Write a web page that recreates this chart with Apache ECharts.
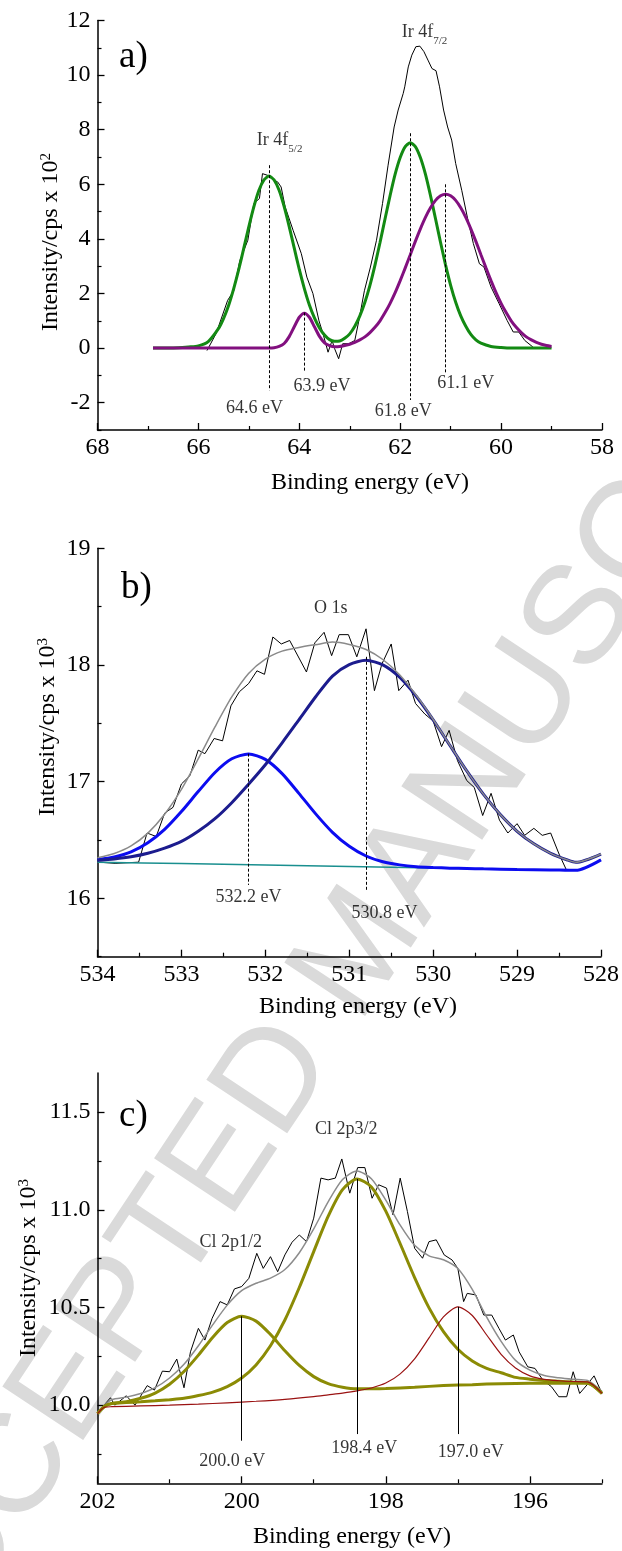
<!DOCTYPE html>
<html>
<head>
<meta charset="utf-8">
<script src="https://cdn.jsdelivr.net/npm/echarts@6/dist/echarts.min.js"></script>
<style>
  html, body { margin: 0; padding: 0; background: #fff; }
  #chart { width: 622px; height: 1551px; }
</style>
</head>
<body>
<div id="chart"></div>
<script>
// ---------- (a) Ir 4f ----------
const irTicksY = [-2, 0, 2, 4, 6, 8, 10, 12];
const irMinorY = [-3, -1, 1, 3, 5, 7, 9, 11];
const irCenters = [64.6, 63.9, 61.8, 61.1];
const irRaw = [
  [65.83,-0.09],[65.65,0.53],[65.42,1.75],[65.30,2.10],[65.18,3.20],[65.02,3.95],[64.90,5.30],[64.79,5.48],
  [64.73,6.39],[64.63,6.33],[64.51,6.15],[64.43,6.09],[64.36,5.90],[64.28,5.17],[64.12,4.30],[63.96,3.46],
  [63.85,2.60],[63.73,2.00],[63.61,1.00],[63.53,0.53],[63.43,-0.15],[63.35,0.28],[63.30,-0.02],[63.22,-0.39],
  [63.14,0.16],[63.02,0.16],[62.90,0.28],[62.82,1.00],[62.71,2.10],[62.59,2.97],[62.47,3.95],[62.35,5.30],
  [62.24,6.70],[62.12,8.10],[62.04,8.72],[61.94,9.33],[61.91,9.57],[61.84,10.30],[61.77,10.73],[61.69,11.04],
  [61.61,11.06],[61.53,10.86],[61.45,10.55],[61.37,10.24],[61.29,10.16],[61.22,9.57],[61.14,8.72],[61.06,8.10],
  [60.98,7.62],[60.90,6.76],[60.78,5.78],[60.67,4.80],[60.55,3.83],[60.43,3.09],[60.34,2.97],[60.20,2.24],
  [60.04,1.63],[59.88,1.01],[59.76,0.59],[59.65,0.59],[59.53,0.28],[59.37,0.04]
];
const irMetal = [
  [66.9,0],[66.6,0],[66.4,0.01],[66.2,0.04],[66.0,0.08],[65.8,0.25],[65.6,0.72],[65.5,1.09],[65.4,1.57],
  [65.3,2.18],[65.2,2.88],[65.1,3.66],[65.0,4.45],[64.9,5.18],[64.8,5.78],[64.7,6.16],[64.6,6.30],[64.5,6.16],
  [64.4,5.78],[64.3,5.18],[64.2,4.45],[64.1,3.66],[64.0,2.88],[63.9,2.18],[63.8,1.58],[63.7,1.11],[63.6,0.74],
  [63.5,0.48],[63.4,0.31],[63.3,0.25],[63.2,0.26],[63.1,0.36],[63.0,0.52],[62.9,0.80],[62.8,1.18],[62.7,1.68],
  [62.6,2.30],[62.5,3.04],[62.4,3.87],[62.3,4.74],[62.2,5.59],[62.1,6.37],[62.0,6.98],[61.9,7.38],[61.8,7.52],
  [61.7,7.38],[61.6,6.98],[61.5,6.37],[61.4,5.59],[61.3,4.74],[61.2,3.87],[61.1,3.04],[61.0,2.30],[60.9,1.68],
  [60.8,1.18],[60.7,0.80],[60.6,0.50],[60.5,0.30],[60.4,0.18],[60.2,0.06],[60.0,0.02],[59.8,0],[59.0,0]
];
const irOxide = [
  [66.9,0],[64.8,0],[64.6,0],[64.5,0.01],[64.4,0.06],[64.3,0.17],[64.2,0.42],[64.1,0.78],[64.0,1.13],[63.9,1.28],
  [63.8,1.13],[63.7,0.78],[63.6,0.43],[63.5,0.19],[63.4,0.09],[63.3,0.05],[63.2,0.06],[63.1,0.095],[63.0,0.14],
  [62.9,0.21],[62.8,0.30],[62.7,0.41],[62.6,0.57],[62.5,0.76],[62.4,1.00],[62.3,1.30],[62.2,1.64],[62.1,2.03],
  [62.0,2.47],[61.9,2.94],[61.8,3.42],[61.7,3.91],[61.6,4.37],[61.5,4.79],[61.4,5.14],[61.3,5.41],[61.2,5.58],
  [61.1,5.64],[61.0,5.58],[60.9,5.41],[60.8,5.14],[60.7,4.79],[60.6,4.37],[60.5,3.91],[60.4,3.42],[60.3,2.94],
  [60.2,2.47],[60.1,2.03],[60.0,1.64],[59.9,1.30],[59.8,1.00],[59.7,0.76],[59.6,0.57],[59.5,0.41],[59.4,0.30],
  [59.3,0.21],[59.2,0.14],[59.1,0.095],[59.0,0.06]
];

// ---------- (b) O 1s ----------
const oTicksY = [16, 17, 18, 19];
const oMinorY = [15.5, 16.5, 17.5, 18.5];
const oCenters = [532.2, 530.8];
const oRaw = [
  [533.98,16.31],[533.79,16.30],[533.51,16.31],[533.41,16.56],[533.30,16.53],[533.20,16.73],[533.10,16.78],
  [533.00,16.98],[532.90,17.05],[532.80,17.27],[532.72,17.24],[532.61,17.37],[532.51,17.35],[532.41,17.65],
  [532.31,17.77],[532.20,17.84],[532.10,17.95],[532.01,17.92],[531.91,18.24],[531.81,18.18],[531.71,18.21],
  [531.51,17.94],[531.41,18.19],[531.30,18.28],[531.21,18.08],[531.12,18.26],[531.01,18.26],[530.91,18.07],
  [530.80,18.31],[530.70,17.78],[530.61,18.01],[530.50,18.18],[530.41,17.78],[530.30,17.87],[530.21,17.67],
  [530.10,17.58],[530.00,17.52],[529.90,17.30],[529.81,17.44],[529.71,17.18],[529.60,17.01],[529.51,16.95],
  [529.41,16.71],[529.31,16.90],[529.21,16.67],[529.11,16.56],[529.00,16.64],[528.91,16.54],[528.80,16.60],
  [528.70,16.54],[528.60,16.56],[528.50,16.38],[528.41,16.24]
];
const oBackground = [
  [534.0,16.310],[533.0,16.298],[532.0,16.285],[531.0,16.273],[530.0,16.261],[529.0,16.248],[528.3,16.240],[528.0,16.33]
];
const oPeakHigh = [
  [534.0,16.331],[533.8,16.354],[533.6,16.398],[533.4,16.476],[533.2,16.591],[533.0,16.744],[532.8,16.915],
  [532.6,17.079],[532.4,17.196],[532.2,17.238],[532.0,17.191],[531.8,17.069],[531.6,16.900],[531.4,16.724],
  [531.2,16.566],[531.0,16.446],[530.8,16.363],[530.6,16.314],[530.4,16.287],[530.2,16.271],[530.0,16.264],
  [529.8,16.259],[529.6,16.256],[529.4,16.253],[529.0,16.248],[528.6,16.244],[528.3,16.240],[528.0,16.33]
];
const oPeakLow = [
  [534.0,16.327],[533.8,16.338],[533.6,16.356],[533.4,16.386],[533.2,16.430],[533.0,16.488],[532.8,16.575],
  [532.6,16.683],[532.4,16.820],[532.2,16.978],[532.0,17.145],[531.8,17.333],[531.6,17.530],[531.4,17.728],
  [531.2,17.905],[531.0,18.003],[530.8,18.040],[530.6,18.001],[530.4,17.895],[530.2,17.730],[530.0,17.530],
  [529.8,17.310],[529.6,17.092],[529.4,16.891],[529.2,16.718],[529.0,16.575],[528.8,16.467],[528.6,16.386],
  [528.4,16.329],[528.3,16.309],[528.0,16.38]
];
const oEnvelope = [
  [534.0,16.348],[533.8,16.384],[533.6,16.449],[533.4,16.559],[533.2,16.721],[533.0,16.934],[532.8,17.195],
  [532.6,17.469],[532.4,17.726],[532.2,17.928],[532.0,18.051],[531.8,18.119],[531.6,18.150],[531.4,18.174],
  [531.2,18.196],[531.0,18.176],[530.8,18.133],[530.6,18.047],[530.4,17.916],[530.2,17.738],[530.0,17.533],
  [529.8,17.311],[529.6,17.092],[529.4,16.891],[529.2,16.718],[529.0,16.575],[528.8,16.467],[528.6,16.386],
  [528.4,16.329],[528.3,16.309],[528.0,16.38]
];

// ---------- (c) Cl 2p ----------
const clTicksX = [196, 198, 200, 202];
const clMinorX = [195, 197, 199, 201];
const clTicksY = [10.0, 10.5, 11.0, 11.5];
const clMinorY = [9.75, 10.25, 10.75, 11.25];
const clCenters = [200.0, 198.4, 197.0];
const clRaw = [
  [201.98,9.966],[201.91,10.0],[201.82,10.038],[201.76,10.0],[201.6,10.048],[201.48,10.0],[201.31,10.10],
  [201.21,10.077],[201.1,10.174],[201.0,10.171],[200.9,10.236],[200.8,10.089],[200.71,10.273],[200.6,10.393],
  [200.51,10.333],[200.41,10.444],[200.3,10.53],[200.2,10.513],[200.1,10.595],[200.0,10.607],[199.9,10.649],
  [199.79,10.777],[199.7,10.70],[199.6,10.76],[199.5,10.683],[199.4,10.769],[199.3,10.834],[199.2,10.871],
  [199.1,10.837],[199.0,10.957],[198.9,11.162],[198.8,11.153],[198.7,11.162],[198.61,11.26],[198.5,11.085],
  [198.39,11.216],[198.29,11.216],[198.19,11.059],[198.1,11.128],[197.99,11.111],[197.9,10.974],[197.8,11.162],
  [197.7,10.991],[197.6,10.803],[197.49,10.752],[197.4,10.837],[197.3,10.846],[197.19,10.769],[197.08,10.743],
  [197.0,10.70],[196.92,10.53],[196.87,10.572],[196.75,10.564],[196.64,10.461],[196.53,10.461],[196.43,10.393],
  [196.34,10.333],[196.23,10.359],[196.15,10.273],[196.03,10.196],[195.93,10.188],[195.82,10.128],[195.7,10.094],
  [195.6,10.043],[195.49,10.043],[195.4,10.171],[195.31,10.06],[195.21,10.103],[195.11,10.15],[195.0,10.06]
];
const clHalf = [
  [202.0,9.957],[201.9,9.995],[201.8,10.009],[201.6,10.018],[201.4,10.035],[201.2,10.062],[201.0,10.107],
  [200.8,10.172],[200.6,10.256],[200.4,10.348],[200.2,10.423],[200.0,10.455],[199.8,10.430],[199.6,10.362],
  [199.4,10.278],[199.2,10.203],[199.0,10.146],[198.8,10.110],[198.6,10.092],[198.4,10.084],[198.2,10.084],
  [198.0,10.085],[197.6,10.092],[197.2,10.100],[196.8,10.105],[196.4,10.110],[196.0,10.112],[195.6,10.113],
  [195.2,10.112],[195.0,10.06]
];
const clThreeHalf = [
  [202.0,9.957],[201.9,9.993],[201.8,10.008],[201.6,10.013],[201.4,10.017],[201.2,10.022],[201.0,10.028],
  [200.8,10.035],[200.6,10.049],[200.4,10.067],[200.2,10.095],[200.0,10.139],[199.8,10.206],[199.6,10.304],
  [199.4,10.436],[199.2,10.602],[199.0,10.786],[198.8,10.966],[198.6,11.103],[198.4,11.158],[198.2,11.117],
  [198.0,10.993],[197.8,10.826],[197.6,10.653],[197.4,10.498],[197.2,10.376],[197.0,10.286],[196.8,10.226],
  [196.6,10.188],[196.4,10.166],[196.2,10.142],[196.0,10.133],[195.8,10.126],[195.6,10.122],[195.4,10.118],
  [195.2,10.115],[195.0,10.06]
];
const clLow = [
  [202.0,9.957],[201.9,9.990],[201.8,9.992],[201.4,9.996],[201.0,10.000],[200.6,10.005],[200.2,10.012],
  [199.8,10.020],[199.4,10.030],[199.0,10.044],[198.8,10.053],[198.6,10.062],[198.4,10.073],[198.2,10.088],
  [198.0,10.113],[197.8,10.160],[197.6,10.237],[197.4,10.344],[197.2,10.452],[197.0,10.503],[196.8,10.459],
  [196.6,10.359],[196.4,10.260],[196.2,10.190],[196.0,10.150],[195.8,10.132],[195.6,10.125],[195.4,10.121],
  [195.2,10.119],[195.0,10.06]
];
const clEnvelope = [
  [202.0,9.957],[201.9,10.0],[201.8,10.029],[201.6,10.041],[201.4,10.060],[201.2,10.090],[201.0,10.139],
  [200.8,10.209],[200.6,10.304],[200.4,10.412],[200.2,10.512],[200.0,10.586],[199.8,10.624],[199.6,10.650],
  [199.4,10.694],[199.2,10.780],[199.0,10.902],[198.8,11.041],[198.6,11.155],[198.4,11.199],[198.2,11.159],
  [198.0,11.049],[197.8,10.921],[197.6,10.818],[197.4,10.764],[197.2,10.744],[197.0,10.699],[196.8,10.592],
  [196.6,10.450],[196.4,10.326],[196.2,10.229],[196.0,10.179],[195.8,10.152],[195.6,10.140],[195.4,10.132],
  [195.2,10.126],[195.0,10.07]
];

// ---------- shared styling ----------
const SERIF = "'Liberation Serif','Times New Roman',serif";
const SANS = "'Liberation Sans',Arial,sans-serif";
const TICK_FONT = 24;
const TITLE_FONT = 24;
const INK = '#000';

function majorAxis(extra) {
  return Object.assign({
    type: 'value',
    axisLine: { show: true, onZero: false, lineStyle: { color: INK, width: 1.5 } },
    axisTick: { show: true, inside: true, length: 7, lineStyle: { color: INK, width: 1.3 } },
    axisLabel: { margin: 7, fontFamily: SERIF, fontSize: TICK_FONT, color: INK },
    splitLine: { show: false }
  }, extra);
}
function minorAxis(extra) {
  return Object.assign({
    type: 'value',
    axisLine: { show: false, onZero: false },
    axisTick: { show: true, inside: true, length: 4, lineStyle: { color: INK, width: 1.2 } },
    axisLabel: { show: false },
    splitLine: { show: false }
  }, extra);
}
function withTicks(axis, values, fmt) {
  axis.axisTick.customValues = values;
  axis.axisLabel.customValues = values;
  if (fmt) axis.axisLabel.formatter = fmt;
  return axis;
}
function minorTicks(axis, values) {
  axis.axisTick.customValues = values;
  return axis;
}

function fit(name, data, color, width, x, y) {
  return {
    name, type: 'line', data, xAxisIndex: x, yAxisIndex: y,
    showSymbol: false, smooth: 0.25,
    lineStyle: { color, width }, silent: true, z: 3
  };
}
function raw(name, data, x, y, marks, dash) {
  return {
    name, type: 'line', data, xAxisIndex: x, yAxisIndex: y,
    showSymbol: false, smooth: false,
    lineStyle: { color: INK, width: 1 }, silent: true, z: 2,
    markLine: {
      silent: true, symbol: ['none', 'none'], label: { show: false },
      lineStyle: { color: INK, width: 1, type: dash ? [3, 2] : 'solid' },
      data: marks
    }
  };
}
function textSeries(items, x, y) {
  return {
    type: 'scatter', xAxisIndex: x, yAxisIndex: y, symbolSize: 0, silent: true, z: 5,
    data: items.map(it => ({ value: it.at, label: { formatter: it.text } })),
    label: {
      show: true, position: 'inside', fontFamily: SERIF, fontSize: 18, color: INK,
      rich: {
        m: { fontFamily: SERIF, fontSize: 18, color: INK, verticalAlign: 'bottom', lineHeight: 20, padding: [0, 0, 5, 0] },
        s: { fontFamily: SERIF, fontSize: 11, color: INK, verticalAlign: 'bottom', lineHeight: 12 }
      }
    }
  };
}
const eV = v => v.toFixed(1) + ' eV';

// ---------- axes ----------
const minorX = { show: true, splitNumber: 2, length: 4, lineStyle: { color: INK, width: 1.2 } };
const xAxes = [
  majorAxis({ gridIndex: 0, position: 'bottom', inverse: true, min: 58, max: 68, interval: 2, minorTick: minorX }),
  majorAxis({ gridIndex: 1, position: 'bottom', inverse: true, min: 528, max: 534, interval: 1, minorTick: minorX }),
  withTicks(majorAxis({ gridIndex: 2, position: 'bottom', inverse: true, min: 195, max: 202 }), clTicksX),
  minorTicks(minorAxis({ gridIndex: 2, position: 'bottom', inverse: true, min: 195, max: 202 }), clMinorX)
];
xAxes.forEach(a => { if (a.axisLabel.show !== false) a.axisLabel.margin = 6; });

const yAxes = [
  withTicks(majorAxis({ gridIndex: 0, position: 'left', min: -3, max: 12 }), irTicksY),
  minorTicks(minorAxis({ gridIndex: 0, position: 'left', min: -3, max: 12 }), irMinorY),
  withTicks(majorAxis({ gridIndex: 1, position: 'left', min: 15.5, max: 19 }), oTicksY),
  minorTicks(minorAxis({ gridIndex: 1, position: 'left', min: 15.5, max: 19 }), oMinorY),
  withTicks(majorAxis({ gridIndex: 2, position: 'left', min: 9.6, max: 11.7 }), clTicksY, v => v.toFixed(1)),
  minorTicks(minorAxis({ gridIndex: 2, position: 'left', min: 9.6, max: 11.7 }), clMinorY)
];

// ---------- marker lines under each fitted component ----------
const irMarkSpan = [[6.7, -1.55], [1.3, -0.86], [7.87, -1.9], [6.0, -0.9]];
const irMarks = irCenters.map((c, i) => [{ coord: [c, irMarkSpan[i][0]] }, { coord: [c, irMarkSpan[i][1]] }]);
const oMarkSpan = [[17.24, 16.115], [18.07, 16.06]];
const oMarks = oCenters.map((c, i) => [{ coord: [c, oMarkSpan[i][0]] }, { coord: [c, oMarkSpan[i][1]] }]);
const clMarkSpan = [[10.455, 9.818], [11.158, 9.852], [10.503, 9.852]];
const clMarks = clCenters.map((c, i) => [{ coord: [c, clMarkSpan[i][0]] }, { coord: [c, clMarkSpan[i][1]] }]);

const irText = [
  { at: [64.89, -2.19], text: eV(irCenters[0]) },
  { at: [63.55, -1.38], text: eV(irCenters[1]) },
  { at: [61.94, -2.33], text: eV(irCenters[2]) },
  { at: [60.70, -1.29], text: eV(irCenters[3]) },
  { at: [64.39, 7.45], text: '{m|Ir 4f}{s|5/2}' },
  { at: [61.52, 11.42], text: '{m|Ir 4f}{s|7/2}' }
];
const oText = [
  { at: [532.2, 16.01], text: eV(oCenters[0]) },
  { at: [530.58, 15.87], text: eV(oCenters[1]) },
  { at: [531.22, 18.49], text: 'O 1s' }
];
const clText = [
  { at: [200.13, 9.715], text: eV(clCenters[0]) },
  { at: [198.30, 9.78], text: eV(clCenters[1]) },
  { at: [196.82, 9.758], text: eV(clCenters[2]) },
  { at: [200.15, 10.835], text: 'Cl 2p1/2' },
  { at: [198.55, 11.41], text: 'Cl 2p3/2' }
];

// ---------- titles, panel letters, watermark ----------
function yName(x, y, sup) {
  return {
    type: 'text', x, y, rotation: Math.PI / 2, silent: true, z: 10,
    style: {
      text: '{m|Intensity/cps x 10}{s|' + sup + '}',
      align: 'center', verticalAlign: 'middle', fill: INK,
      rich: {
        m: { fontFamily: SERIF, fontSize: TITLE_FONT, lineHeight: 27, verticalAlign: 'top', fill: INK },
        s: { fontFamily: SERIF, fontSize: 15, lineHeight: 15, verticalAlign: 'top', fill: INK }
      }
    }
  };
}
function xName(x, y) {
  return {
    type: 'text', x, y, silent: true, z: 10,
    style: { text: 'Binding energy (eV)', fontFamily: SERIF, fontSize: TITLE_FONT, fill: INK, align: 'center', verticalAlign: 'middle' }
  };
}
function letter(x, y, t) {
  return {
    type: 'text', x, y, silent: true, z: 10,
    style: { text: t, fontFamily: SERIF, fontSize: 37, fill: INK, align: 'left', verticalAlign: 'middle' }
  };
}

const option = {
  animation: false,
  backgroundColor: '#fff',
  grid: [
    { left: 97.5, top: 20.5, width: 504.5, height: 409.5 },
    { left: 97.5, top: 548.3, width: 504.5, height: 408.4 },
    { left: 97.5, top: 1073, width: 504.5, height: 410.3 }
  ],
  xAxis: xAxes,
  yAxis: yAxes,
  graphic: [
    {
      type: 'text', x: 361, y: 952, rotation: 0.984, silent: true, z: -1,
      style: { text: 'ACCEPTED MANUSCRIPT', fontFamily: SANS, fontSize: 141, fill: '#dadada', align: 'center', verticalAlign: 'middle' }
    },
    yName(52, 242, '2'),
    yName(49.5, 727, '3'),
    yName(30, 1268, '3'),
    xName(370, 483),
    xName(358, 1007),
    xName(352, 1537),
    letter(119, 57, 'a)'),
    letter(121, 588, 'b)'),
    letter(119, 1116, 'c)')
  ],
  series: [
    raw('Ir 4f data', irRaw, 0, 0, irMarks, true),
    fit('Ir metal', irMetal, '#138a13', 3, 0, 0),
    fit('Ir oxide', irOxide, '#82107f', 3, 0, 0),
    textSeries(irText, 0, 0),

    raw('O 1s data', oRaw, 1, 2, oMarks, true),
    fit('background', oBackground, '#1a8f8f', 1.5, 1, 2),
    fit('O 532.2', oPeakHigh, '#0c0cf0', 3, 1, 2),
    fit('O 530.8', oPeakLow, '#1c1c8e', 3, 1, 2),
    fit('O envelope', oEnvelope, '#8a8a8a', 1.5, 1, 2),
    textSeries(oText, 1, 2),

    raw('Cl 2p data', clRaw, 2, 4, clMarks, false),
    fit('Cl envelope', clEnvelope, '#8c8c8c', 1.5, 2, 4),
    fit('Cl 2p1/2', clHalf, '#8b8b05', 3, 2, 4),
    fit('Cl 2p3/2', clThreeHalf, '#8b8b05', 3, 2, 4),
    fit('Cl 197.0', clLow, '#9a1212', 1.2, 2, 4),
    textSeries(clText, 2, 4)
  ]
};

const chart = echarts.init(document.getElementById('chart'), null, { renderer: 'canvas' });
chart.setOption(option);
</script>
</body>
</html>
